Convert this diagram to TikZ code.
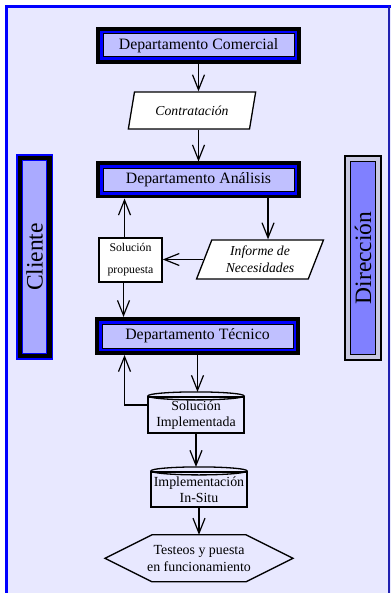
\documentclass[tikz,border=0pt]{standalone}
\usepackage{fontspec}
\setmainfont{Liberation Serif}
\usetikzlibrary{shapes.geometric,arrows.meta}

\definecolor{bgcol}{HTML}{E8E8FF}
\definecolor{deptfill}{HTML}{C0C0FF}
\definecolor{clifill}{HTML}{AAAAFF}
\definecolor{dirfill}{HTML}{8080FF}
\definecolor{dirgap}{HTML}{C8C8E0}
\definecolor{framedark}{HTML}{2020B0}

\tikzset{
    depto/.style={rectangle, fill=deptfill, draw=black, line width=1pt,
        preaction={draw=black, line width=14pt},
        preaction={draw=blue, line width=6.4pt},
        minimum width=191, minimum height=23, inner sep=0pt, outer sep=7pt,
        font=\fontsize{15.8}{18}\selectfont},
    datos/.style={trapezium, trapezium left angle=68, trapezium right angle=112,
        trapezium stretches=true, draw, fill=white, line width=1.3pt,
        minimum width=128, inner sep=0pt, align=center,
        font=\itshape\fontsize{13.7}{17}\selectfont},
    almacen/.style={rectangle, draw, line width=2.2pt, minimum width=96,
        inner sep=0pt, align=center, font=\fontsize{13.9}{16.5}\selectfont},
    clientebar/.style={rectangle, rotate=90, fill=clifill, draw=blue, line width=1.3pt,
        preaction={draw=blue, line width=13.2pt},
        preaction={draw=black, line width=9.8pt},
        minimum width=192.8, minimum height=24.1, inner sep=0pt,
        font=\fontsize{23.5}{26}\selectfont},
    direccionbar/.style={rectangle, rotate=90, fill=dirfill, draw=black, line width=1.3pt,
        preaction={draw=black, line width=13.4pt},
        preaction={draw=dirgap, line width=9.4pt},
        minimum width=192.6, minimum height=24.6, inner sep=0pt,
        font=\fontsize{23.5}{26}\selectfont}
}

\begin{document}
\begin{tikzpicture}[x=1pt, y=-1pt, >={Straight Barb[length=15pt,width=12pt]}]
            \useasboundingbox (0,0) rectangle (390,593);
            \fill[bgcol] (5,5) rectangle (395,600);
            \draw[blue, line width=3.5pt] (6.5,600) -- (6.5,6.5) -- (395,6.5);
            \draw[framedark, line width=1.5pt] (389,6) -- (389,600);

            \node[clientebar] (cli) at (34.65,257) {Cliente};
            \node[direccionbar] (dir) at (363,258) {Dirección};

            \node[depto] (com) at (198.5,45.5) {Departamento Comercial};
            \node[datos, minimum height=37] (contr) at (192,110.5) {Contratación};
            \node[depto] (ana) at (198.5,180) {Departamento Análisis};
            \node[datos, minimum height=39] (inf) at (260,259.5) {Informe de\\Necesidades};
            \node[draw, fill=white, line width=1.3pt, minimum width=63, minimum height=44,
                inner sep=0pt, align=center, font=\fontsize{11.8}{22}\selectfont]
                (sol) at (130.5,260) {Solución\\propuesta};
            \node[depto, minimum height=24] (tec) at (197.5,336) {Departamento Técnico};
            \node[almacen, minimum height=36] (impl) at (196,415) {Solución\\Implementada};
            \draw[line width=1.3pt] (impl.north) ellipse (48pt and 4pt);
            \node[almacen, minimum height=35] (situ) at (199,489.5) {Implementación\\In-Situ};
            \draw[line width=1.3pt] (situ.north) ellipse (48pt and 4pt);
            \node[minimum width=188, minimum height=47, inner sep=0pt, outer sep=0pt,
                align=center, font=\fontsize{13.9}{16.5}\selectfont]
                (test) at (199,558.3) {Testeos y puesta\\en funcionamiento};
            \draw[line width=1.3pt] (test.west) -- ([xshift=-47pt]test.north)
                -- ([xshift=47pt]test.north) -- (test.east)
                -- ([xshift=47pt]test.south) -- ([xshift=-47pt]test.south) -- cycle;

            \draw[very thick,->] (com.south) -- (com.south |- contr.north);
            \draw[very thick,->] (ana.north |- contr.south) -- (ana.north);
            \draw[very thick,->] ([xshift=8pt]inf.north |- ana.south) -- ([xshift=8pt]inf.north);
            \draw[very thick,->] (inf.west) -- (sol.east |- inf.west);
            \draw[very thick,->] ([xshift=-6pt]sol.north) -- ([xshift=-6pt]sol.north |- ana.south);
            \draw[very thick,->] ([xshift=-7pt]sol.south) -- ([xshift=-7pt]sol.south |- tec.north);
            \draw[very thick,->] (tec.south) -- ([yshift=4pt]tec.south |- impl.north);
            \draw[very thick,->] ([yshift=10pt]impl.west) -| ([xshift=-6pt]sol.south |- tec.south);
            \draw[very thick,->] (impl.south) -- ([yshift=4pt]impl.south |- situ.north);
            \draw[very thick,->] (situ.south) -- (situ.south |- test.north);
        \end{tikzpicture}
\end{document}
